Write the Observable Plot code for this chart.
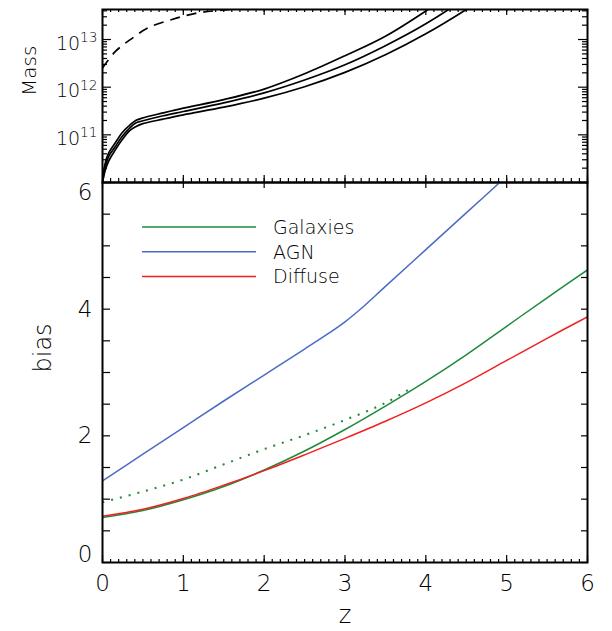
<!DOCTYPE html>
<html><head><meta charset="utf-8">
<script src="https://cdn.jsdelivr.net/npm/d3@7"></script>
<script src="https://cdn.jsdelivr.net/npm/@observablehq/plot@0.6"></script>
<style>
body{margin:0;background:#fff}
#wrap{position:relative;width:612px;height:631px;overflow:hidden}
#wrap > div{position:absolute;left:0;width:612px}
</style></head>
<body><div id="wrap"><div id="top"></div><div id="bot"></div><div id="legend"></div></div>
<script>
// ---------- data ----------
// top panel: redshift grid and log10(Mass) of the three solid curves
const zMass   = [0, 0.033, 0.074, 0.157, 0.24, 0.33, 0.41, 0.49, 0.75, 1.0, 1.5, 2.0, 2.5, 3.0, 3.5, 4.0, 4.5, 5.0];
const logMassHi  = [10.0, 10.40, 10.61, 10.83, 11.04, 11.19, 11.30, 11.35, 11.46, 11.56, 11.74, 11.96, 12.28, 12.66, 13.07, 13.60, 14.20, 14.80];
const logMassMid = [10.0, 10.32, 10.54, 10.75, 10.96, 11.13, 11.25, 11.29, 11.40, 11.49, 11.67, 11.88, 12.15, 12.47, 12.87, 13.33, 13.88, 14.50];
const logMassLo  = [10.0, 10.25, 10.44, 10.68, 10.89, 11.08, 11.17, 11.23, 11.33, 11.42, 11.58, 11.77, 12.01, 12.31, 12.68, 13.12, 13.63, 14.20];
// dashed curve
const zHalo      = [0, 0.16, 0.37, 0.57, 0.86, 1.15, 1.44, 1.8];
const logMassHalo = [12.40, 12.75, 13.03, 13.25, 13.42, 13.55, 13.61, 13.66];
const massTickExp = [11, 12, 13];
const massTickBase = "10";

// bottom panel: bias vs z
const zBias    = [0, 0.5, 1, 1.5, 2, 2.5, 3, 3.5, 4, 4.5, 5, 5.5, 6];
const galaxies = [0.71, 0.82, 0.99, 1.20, 1.46, 1.76, 2.10, 2.47, 2.86, 3.28, 3.73, 4.18, 4.62];
const diffuse  = [0.73, 0.84, 1.01, 1.22, 1.45, 1.70, 1.96, 2.23, 2.52, 2.84, 3.19, 3.54, 3.88];
const zAgn     = [0, 0.5, 1, 1.5, 2, 2.5, 2.8, 3.0, 3.2, 3.5, 4.0, 4.5, 5.0];
const agn      = [1.29, 1.71, 2.13, 2.55, 2.96, 3.37, 3.62, 3.80, 4.01, 4.36, 4.94, 5.52, 6.10];
const zDotted  = [0, 0.5, 1, 1.5, 2, 2.5, 3, 3.5, 3.85];
const galaxiesDotted = [0.95, 1.12, 1.31, 1.55, 1.79, 2.01, 2.25, 2.52, 2.78];

const seriesNames  = ["Galaxies", "AGN", "Diffuse"];
const seriesColors = ["#1f8a3a", "#4a6cc4", "#f02020"];
const xTickValues = [0, 1, 2, 3, 4, 5, 6];
const xTickLabels = ["0", "1", "2", "3", "4", "5", "6"];
const biasTickValues = [0, 2, 4, 6];
const biasTickLabels = ["0", "2", "4", "6"];

// ---------- build ----------
const FONT = "'DejaVu Sans', sans-serif";
const W = 612;
const mL = 102, mR = 25;
const innerW = W - mL - mR;

const massRows = [];
[["hi", logMassHi], ["mid", logMassMid], ["lo", logMassLo]].forEach(([s, arr]) =>
  zMass.forEach((z, i) => massRows.push({z, m: 10 ** arr[i], s})));
const haloRows = zHalo.map((z, i) => ({z, m: 10 ** logMassHalo[i]}));

const xMinor = d3.range(0, 61).map(i => i / 10);
const logMinor = [];
for (let k = 10; k <= 13; k++) for (let m = 2; m <= 9; m++) if (Math.log10(m) + k <= 13.63) logMinor.push(m * 10 ** k);
const logMajor = [1e10, 1e11, 1e12, 1e13];

// top panel
const topH = 184, topMT = 9, topMB = 2, topIH = topH - topMT - topMB;
const tk = {stroke: "#000", strokeWidth: 1.2};
const topPlot = Plot.plot({
  width: W, height: topH, marginTop: topMT, marginBottom: topMB, marginLeft: mL, marginRight: mR,
  style: {fontFamily: FONT, color: "#000", background: "transparent", overflow: "visible", fontWeight: 200},
  x: {domain: [0, 6], axis: null},
  y: {type: "log", domain: [1e10, 10 ** 13.63]},
  marks: [
    Plot.line(massRows, {x: "z", y: "m", z: "s", stroke: "#000", strokeWidth: 1.7, curve: "catmull-rom", clip: true}),
    Plot.line(haloRows, {x: "z", y: "m", stroke: "#000", strokeWidth: 1.7, strokeDasharray: "10,7", strokeLinecap: "butt", curve: "catmull-rom", clip: true}),
    Plot.tickX(xMinor, {x: d => d, insetTop: topIH - 4, ...tk}),
    Plot.tickX(xTickValues, {x: d => d, insetTop: topIH - 7, ...tk}),
    Plot.tickX(xMinor, {x: d => d, insetBottom: topIH - 3, ...tk}),
    Plot.tickX(xTickValues, {x: d => d, insetBottom: topIH - 6, ...tk}),
    Plot.tickY(logMinor, {y: d => d, insetRight: innerW - 5, ...tk}),
    Plot.tickY(logMajor, {y: d => d, insetRight: innerW - 9, ...tk}),
    Plot.tickY(logMinor, {y: d => d, insetLeft: innerW - 5, ...tk}),
    Plot.tickY(logMajor, {y: d => d, insetLeft: innerW - 9, ...tk}),
    Plot.axisY({ticks: massTickExp.map(e => 10 ** e), tickFormat: d => massTickBase + "^" + Math.round(Math.log10(d)), tickSize: 0, tickPadding: 5, fontSize: 19, dy: 4, label: null}),
    Plot.text(["Mass"], {frameAnchor: "left", dx: -73, rotate: -90, fontSize: 20}),
    Plot.frame({stroke: "#000", strokeWidth: 2})
  ]
});
document.getElementById("top").appendChild(topPlot);
// typeset 10^k as base + superscript
d3.select(topPlot).selectAll("g[aria-label='y-axis tick label'] text").each(function () {
  const [base, exp] = this.textContent.split("^");
  if (exp === undefined) return;
  const t = d3.select(this);
  t.text(null);
  t.append("tspan").text(base);
  t.append("tspan").attr("dy", "-0.55em").attr("font-size", "0.72em").text(exp);
});

// bottom panel
const botTop = 181, botH = 631 - botTop, botMT = 1, botMB = 69, botIH = botH - botMT - botMB;
const biasMinor = d3.range(0, 13).map(i => i / 2);
const lineRows = [];
zBias.forEach((z, i) => lineRows.push({z, b: galaxies[i], s: "Galaxies"}));
zAgn.forEach((z, i) => lineRows.push({z, b: agn[i], s: "AGN"}));
zBias.forEach((z, i) => lineRows.push({z, b: diffuse[i], s: "Diffuse"}));
const dottedRows = zDotted.map((z, i) => ({z, b: galaxiesDotted[i]}));
const fmtX = d => xTickLabels[xTickValues.indexOf(d)];
const fmtB = d => biasTickLabels[biasTickValues.indexOf(d)];

const botPlot = Plot.plot({
  width: W, height: botH, marginTop: botMT, marginBottom: botMB, marginLeft: mL, marginRight: mR,
  style: {fontFamily: FONT, color: "#000", background: "transparent", overflow: "visible", fontWeight: 200},
  x: {domain: [0, 6]},
  y: {domain: [0, 6]},
  color: {domain: seriesNames, range: seriesColors},
  marks: [
    Plot.line(dottedRows, {x: "z", y: "b", stroke: seriesColors[0], strokeWidth: 2, strokeDasharray: "2,7", strokeLinecap: "butt", curve: "catmull-rom"}),
    Plot.line(lineRows, {x: "z", y: "b", z: "s", stroke: "s", strokeWidth: 1.5, curve: "catmull-rom", clip: true}),
    Plot.tickX(xMinor, {x: d => d, insetTop: botIH - 3, ...tk}),
    Plot.tickX(xTickValues, {x: d => d, insetTop: botIH - 7, ...tk}),
    Plot.tickX(xTickValues, {x: d => d, insetBottom: botIH - 6, ...tk}),
    Plot.tickY(biasMinor, {y: d => d, insetRight: innerW - 8, ...tk}),
    Plot.tickY(biasMinor, {y: d => d, insetLeft: innerW - 6, ...tk}),
    Plot.axisX({ticks: xTickValues, tickFormat: fmtX, tickSize: 0, tickPadding: 12, fontSize: 23, label: null}),
    Plot.axisY({ticks: [2, 4], tickFormat: fmtB, tickSize: 0, tickPadding: 10, fontSize: 23, label: null}),
    Plot.axisY({ticks: [6], tickFormat: fmtB, tickSize: 0, tickPadding: 10, fontSize: 23, dy: 10, label: null}),
    Plot.axisY({ticks: [0], tickFormat: fmtB, tickSize: 0, tickPadding: 10, fontSize: 23, dy: -8, label: null}),
    Plot.text(["bias"], {frameAnchor: "left", dx: -59, rotate: -90, fontSize: 24}),
    Plot.text(["z"], {frameAnchor: "bottom", dy: 60, fontSize: 24}),
    Plot.frame({stroke: "#000", strokeWidth: 2})
  ]
});
const botDiv = document.getElementById("bot");
botDiv.style.top = botTop + "px";
botDiv.appendChild(botPlot);

// legend (inside bottom panel, upper left)
const leg = d3.select("#legend").style("top", "0px")
  .append("svg").attr("width", W).attr("height", 300);
const legY0 = 227, legStep = 24.7;
seriesNames.forEach((name, i) => {
  const y = legY0 + i * legStep;
  leg.append("line").attr("x1", 142).attr("x2", 256).attr("y1", y).attr("y2", y)
    .attr("stroke", seriesColors[i]).attr("stroke-width", 1.5);
  leg.append("text").attr("x", 273).attr("y", y).attr("dy", "0.36em")
    .attr("font-family", FONT).attr("font-size", 19).attr("font-weight", 200)
    .attr("fill", "#000").text(name);
});
</script>
</body></html>
